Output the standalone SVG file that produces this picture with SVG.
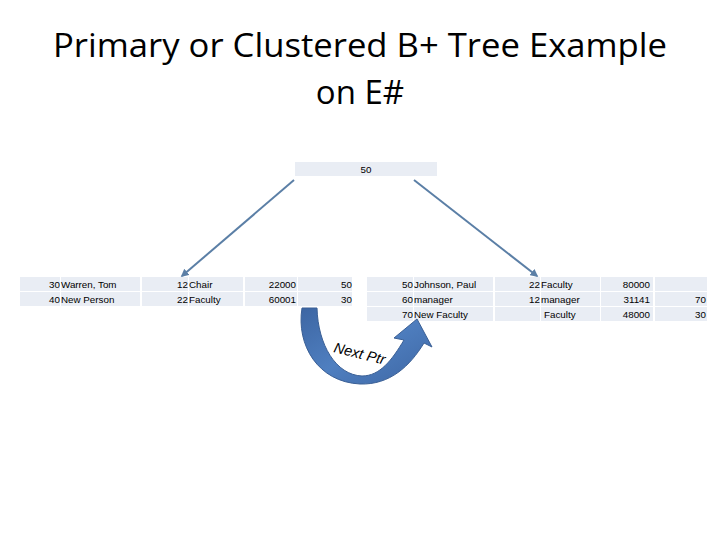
<svg xmlns="http://www.w3.org/2000/svg" width="720" height="540" viewBox="0 0 720 540">
<defs>
<style>
.title{font-family:"Open Sans","Liberation Sans",Arial,sans-serif;font-size:33px;fill:#000}
.c{fill:#e9edf4}
.t{font-family:"Liberation Sans",Arial,sans-serif;font-size:9.8px;fill:#000}
.r{text-anchor:end}
.m{text-anchor:middle}
.edge{stroke:#5b7fa6;stroke-width:2;fill:none;marker-end:url(#ah)}
</style>
<marker id="ah" viewBox="0 0 10 10" refX="8" refY="5" markerWidth="4" markerHeight="4" orient="auto">
<path d="M0,0 L10,5 L0,10 Z" fill="#5b7fa6"/>
</marker>
<linearGradient id="ag" x1="0" y1="0" x2="1" y2="1">
<stop offset="0" stop-color="#3d66a3"/>
<stop offset="0.5" stop-color="#4f7fc0"/>
<stop offset="1" stop-color="#3d66a3"/>
</linearGradient>
</defs>
<rect width="720" height="540" fill="#fff"/>
<text class="title" x="360" y="57" text-anchor="middle" textLength="614" lengthAdjust="spacingAndGlyphs">Primary or Clustered B+ Tree Example</text>
<text class="title" x="360" y="104" text-anchor="middle">on E#</text>

<g id="root">
<rect class="c" x="295" y="162" width="142" height="14"/>
<text class="t m" x="366" y="173">50</text>
</g>

<g id="leaf-left">
<rect class="c" x="20" y="277" width="40" height="14"/>
<rect class="c" x="61" y="277" width="79" height="14"/>
<rect class="c" x="142" y="277" width="46" height="14"/>
<rect class="c" x="189" y="277" width="54" height="14"/>
<rect class="c" x="245" y="277" width="52" height="14"/>
<rect class="c" x="298" y="277" width="54" height="14"/>
<rect class="c" x="20" y="292" width="40" height="14"/>
<rect class="c" x="61" y="292" width="79" height="14"/>
<rect class="c" x="142" y="292" width="46" height="14"/>
<rect class="c" x="189" y="292" width="54" height="14"/>
<rect class="c" x="245" y="292" width="52" height="14"/>
<rect class="c" x="298" y="292" width="54" height="14"/>
<text class="t r" x="60" y="288">30</text><text class="t" x="61" y="288">Warren, Tom</text>
<text class="t r" x="188" y="288">12</text><text class="t" x="189" y="288">Chair</text>
<text class="t r" x="296" y="288">22000</text><text class="t r" x="352" y="288">50</text>
<text class="t r" x="60" y="303">40</text><text class="t" x="61" y="303">New Person</text>
<text class="t r" x="188" y="303">22</text><text class="t" x="189" y="303">Faculty</text>
<text class="t r" x="296" y="303">60001</text><text class="t r" x="352" y="303">30</text>
</g>

<g id="leaf-right">
<rect class="c" x="367" y="277" width="46" height="14"/>
<rect class="c" x="414" y="277" width="79" height="14"/>
<rect class="c" x="495" y="277" width="45" height="14"/>
<rect class="c" x="541" y="277" width="59" height="14"/>
<rect class="c" x="601" y="277" width="52" height="14"/>
<rect class="c" x="655" y="277" width="52" height="14"/>
<rect class="c" x="367" y="292" width="46" height="14"/>
<rect class="c" x="414" y="292" width="79" height="14"/>
<rect class="c" x="495" y="292" width="45" height="14"/>
<rect class="c" x="541" y="292" width="59" height="14"/>
<rect class="c" x="601" y="292" width="52" height="14"/>
<rect class="c" x="655" y="292" width="52" height="14"/>
<rect class="c" x="367" y="307" width="46" height="14"/>
<rect class="c" x="414" y="307" width="79" height="14"/>
<rect class="c" x="495" y="307" width="45" height="14"/>
<rect class="c" x="541" y="307" width="59" height="14"/>
<rect class="c" x="601" y="307" width="52" height="14"/>
<rect class="c" x="655" y="307" width="52" height="14"/>
<text class="t r" x="413" y="288">50</text><text class="t" x="414" y="288">Johnson, Paul</text>
<text class="t r" x="540" y="288">22</text><text class="t" x="541" y="288">Faculty</text>
<text class="t r" x="650" y="288">80000</text>
<text class="t r" x="413" y="303">60</text><text class="t" x="414" y="303">manager</text>
<text class="t r" x="540" y="303">12</text><text class="t" x="541" y="303">manager</text>
<text class="t r" x="650" y="303">31141</text><text class="t r" x="706" y="303">70</text>
<text class="t r" x="413" y="318">70</text><text class="t" x="414" y="318">New Faculty</text>
<text class="t" x="541" y="318" dx="3">Faculty</text>
<text class="t r" x="650" y="318">48000</text><text class="t r" x="706" y="318">30</text>
</g>

<g id="connectors">
<line class="edge" x1="294" y1="180" x2="182" y2="276"/>
<line class="edge" x1="414" y1="180" x2="537" y2="276"/>
</g>

<g id="next-ptr">
<path d="M302,308 C296,345 318,382 360,384 C390,385 410,366 424,343 L432,347 L417,319 L394,338 L404,340 C392,360 380,376 362,376 C336,375 318,345 317,308 Z" fill="url(#ag)" stroke="#3a5f95" stroke-width="1"/>
<text x="333" y="352" transform="rotate(14 333 352)" font-family="'Liberation Sans',Arial,sans-serif" font-size="14.5" font-style="italic" fill="#000">Next Ptr</text>
</g>
</svg>
